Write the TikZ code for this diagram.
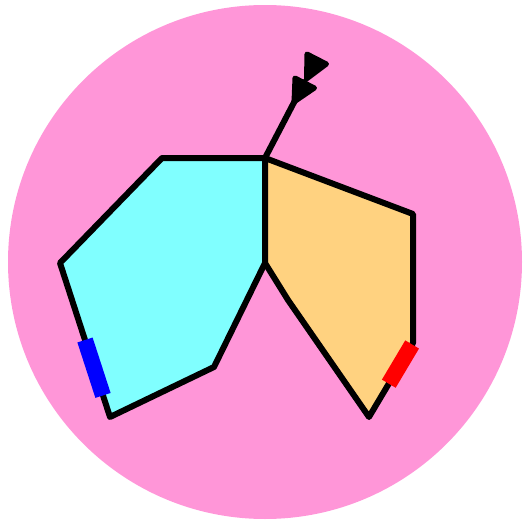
\documentclass[tikz,border=0pt]{standalone}
\usetikzlibrary{calc}
\definecolor{bgpink}{RGB}{255,150,216}
\definecolor{lcyan}{RGB}{128,255,255}
\definecolor{lorange}{RGB}{255,210,128}
\tikzset{
  edge/.style={line width=6pt, line join=round, line cap=round},
  face/.style={edge, draw=black},
  tagbar/.style={line width=16pt},
  head/.style={fill=black, draw=black, line width=5pt, line join=round}
}
\begin{document}
\begin{tikzpicture}[x=1pt,y=-1pt]
\useasboundingbox (0,0) rectangle (523,522);
\fill[bgpink] (265,262) circle (257);
% vertices
\coordinate (A) at (265,158);
\coordinate (c1) at (162,158);
\coordinate (c2) at (60,263);
\coordinate (c3) at (110,417);
\coordinate (c4) at (214,367);
\coordinate (M) at (265,263);
\coordinate (o1) at (413,214);
\coordinate (o2) at (413,343);
\coordinate (o3) at (369,417);
\coordinate (o4) at (288,300);
\path[face, fill=lcyan] (A) -- (c1) -- (c2) -- (c3) -- (c4) -- (M) -- cycle;
\path[face, fill=lorange] (A) -- (o1) -- (o2) -- (o3) -- (o4) -- (M) -- cycle;
% marks
\draw[tagbar, blue] ($(c2)!0.5!(c3)$) -- ($(c2)!0.86!(c3)$);
\draw[tagbar, red] ($(o2)!0.02!(o3)$) -- ($(o2)!0.55!(o3)$);
% arrow
\coordinate (E) at (304.6,82);
\draw[edge] (A) -- (E);
\filldraw[head] (307,54) -- (326.5,64) -- (306.5,79) -- cycle;
\filldraw[head] (295,78) -- (314.5,88) -- (294,102) -- cycle;
\end{tikzpicture}
\end{document}
